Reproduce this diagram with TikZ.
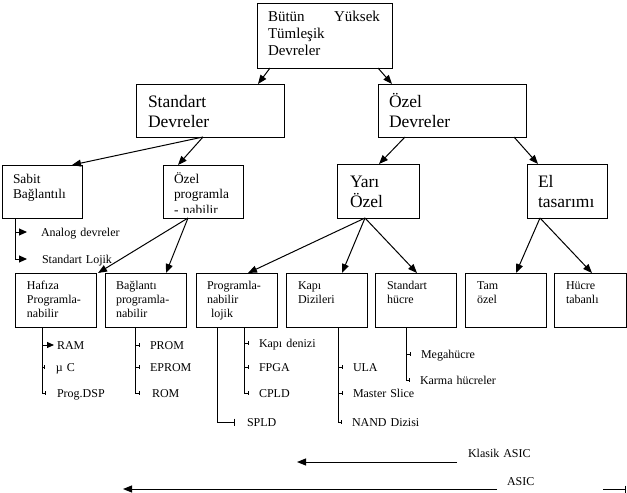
\documentclass[tikz,border=0pt]{standalone}
\usepackage{fontspec}
\setmainfont{Liberation Serif}
\usetikzlibrary{arrows.meta}
\newcommand\fTop{\fontsize{15}{17}\selectfont}
\newcommand\fBig{\fontsize{17.5}{20}\selectfont}
\newcommand\fMid{\fontsize{13.4}{15}\selectfont}
\newcommand\fMidB{\fontsize{13.4}{15.5}\selectfont}
\newcommand\fSm{\fontsize{12}{14}\selectfont}
\begin{document}
\begin{tikzpicture}[x=1pt,y=-1pt,
  bx/.style={draw, line width=1pt, inner sep=0pt, outer sep=0pt, anchor=north west},
  lbl/.style={anchor=base west, inner sep=0pt, outer sep=0pt, align=left, text width=150pt},
  ln/.style={line width=1pt},
  conn/.style={line width=1pt, -{Triangle[length=9pt,width=7pt]}},
  small/.style={line width=1pt, -{Triangle[length=8pt,width=7pt]}},
  smaller/.style={line width=1pt, -{Triangle[length=7pt,width=6pt]}},
  stub/.style={line width=0.8pt, -{Bar[width=4pt]}},
  bigstub/.style={line width=1pt, -{Bar[width=7pt]}}
]
\useasboundingbox (0,0) rectangle (627,493);

% ---- boxes ----
\node[bx, minimum width=135pt, minimum height=65pt] (top) at (257,3) {};
\node[bx, minimum width=148pt, minimum height=53pt] (sd) at (136,84) {};
\node[bx, minimum width=148pt, minimum height=53pt] (od) at (378,84) {};
\node[bx, minimum width=80pt, minimum height=53pt] (sabit) at (2,165) {};
\node[bx, minimum width=80pt, minimum height=53pt] (op) at (163,165) {};
\node[bx, minimum width=82pt, minimum height=54pt] (yari) at (337,164) {};
\node[bx, minimum width=80pt, minimum height=54pt] (el) at (527,164) {};
\node[bx, minimum width=81pt, minimum height=54pt] (haf) at (15,273) {};
\node[bx, minimum width=81pt, minimum height=54pt] (bag) at (105,273) {};
\node[bx, minimum width=81pt, minimum height=54pt] (pl) at (196,273) {};
\node[bx, minimum width=81pt, minimum height=54pt] (kd) at (286,273) {};
\node[bx, minimum width=81pt, minimum height=54pt] (sh) at (375,273) {};
\node[bx, minimum width=81pt, minimum height=54pt] (tam) at (465,273) {};
\node[bx, minimum width=72pt, minimum height=54pt] (hb) at (554,273) {};

% ---- box texts ----
\node[lbl, font=\fTop] (ttop) at (268,21) {\hbox to 112pt{Bütün\hfill Yüksek}\\Tümleşik\\Devreler};
\node[lbl, font=\fBig] (tsd) at (148,107) {Standart\\Devreler};
\node[lbl, font=\fBig] (tod) at (389,107) {Özel\\Devreler};
\node[lbl, font=\fMid] (tsabit) at (13,183) {Sabit\\Bağlantılı};
\begin{scope}
  \clip (163,165) rectangle (243,212.5);
  \node[lbl, font=\fMidB] (top2) at (174,183) {Özel\\programla\\- nabilir};
\end{scope}
\node[lbl, font=\fBig] (tyari) at (350,187) {Yarı\\Özel};
\node[lbl, font=\fBig] (tel) at (538,187) {El\\tasarımı};
\node[lbl, font=\fSm] (thaf) at (27,289) {Hafıza\\Programla-\\nabilir};
\node[lbl, font=\fSm] (tbag) at (116,289) {Bağlantı\\programla-\\nabilir};
\node[lbl, font=\fSm] (tpl) at (207,289) {Programla-\\nabilir\\\hspace*{4pt}lojik};
\node[lbl, font=\fSm] (tkd) at (298,289) {Kapı\\Dizileri};
\node[lbl, font=\fSm] (tsh) at (387,289) {Standart\\hücre};
\node[lbl, font=\fSm] (ttam) at (477,289) {Tam\\özel};
\node[lbl, font=\fSm] (thb) at (566,289) {Hücre\\tabanlı};

% ---- tree arrows ----
\draw[conn] ([xshift=13pt]top.south west) -- ([xshift=122pt]sd.north west);
\draw[conn] ([xshift=121pt]top.south west) -- ([xshift=14pt]od.north west);
\draw[conn] ([xshift=67pt]sd.south west) -- ([xshift=70pt]sabit.north west);
\draw[conn] ([xshift=67pt]sd.south west) -- ([xshift=15pt]op.north west);
\draw[conn] ([xshift=27pt]od.south west) -- ([xshift=42pt]yari.north west);
\draw[conn] ([xshift=136pt]od.south west) -- ([xshift=11pt]el.north west);
\draw[conn] ([xshift=25pt]op.south west) -- ([xshift=2pt]haf.north east);
\draw[conn] ([xshift=25pt]op.south west) -- ([xshift=61pt]bag.north west);
\draw[conn] ([xshift=28pt]yari.south west) -- ([xshift=52pt]pl.north west);
\draw[conn] ([xshift=28pt]yari.south west) -- ([xshift=56pt]kd.north west);
\draw[conn] ([xshift=28pt]yari.south west) -- ([xshift=42pt]sh.north west);
\draw[conn] ([xshift=13pt]el.south west) -- ([xshift=51pt]tam.north west);
\draw[conn] ([xshift=13pt]el.south west) -- ([xshift=38pt]hb.north west);

% ---- Sabit list ----
\coordinate (s0) at ([xshift=13pt]sabit.south west);
\coordinate (s1) at (15,232); \coordinate (s1e) at (27,232);
\coordinate (s2e) at (27,259);
\draw[small] (s0) |- (s2e);
\draw[small] (s1) -- (s1e);
\node[lbl, font=\fSm] (tanalog) at (41,236) {Analog devreler};
\node[lbl, font=\fSm] (tstlojik) at (42,263) {Standart Lojik};

% ---- Hafiza list ----
\coordinate (h0) at ([xshift=27pt]haf.south west);
\coordinate (h1) at (42,345); \coordinate (h1e) at (54,345);
\coordinate (h2) at (42,367); \coordinate (h2e) at (45,367);
\coordinate (h3e) at (46,393);
\draw[stub] (h0) |- (h3e);
\draw[smaller] (h1) -- (h1e);
\draw[stub] (h2) -- (h2e);
\node[lbl, font=\fSm] (tram) at (57,349) {RAM};
\node[lbl, font=\fSm] (tmuc) at (56,371) {µ C};
\node[lbl, font=\fSm] (tdsp) at (57,397) {Prog.DSP};

% ---- Baglanti list ----
\coordinate (b0) at ([xshift=30pt]bag.south west);
\coordinate (b1) at (135,345); \coordinate (b1e) at (140,345);
\coordinate (b2) at (135,367); \coordinate (b2e) at (140,367);
\coordinate (b3e) at (140,393);
\draw[stub] (b0) |- (b3e);
\draw[stub] (b1) -- (b1e);
\draw[stub] (b2) -- (b2e);
\node[lbl, font=\fSm] (tprom) at (150,349) {PROM};
\node[lbl, font=\fSm] (teprom) at (150,371) {EPROM};
\node[lbl, font=\fSm] (trom) at (152,397) {ROM};

% ---- Programlanabilir lojik list ----
\coordinate (p0) at ([xshift=21pt]pl.south west);
\coordinate (p4e) at (235,422);
\draw[bigstub] (p0) |- (p4e);
\coordinate (q0) at ([xshift=48pt]pl.south west);
\coordinate (q1) at (244,343); \coordinate (q1e) at (249,343);
\coordinate (q2) at (244,367); \coordinate (q2e) at (249,367);
\coordinate (q3e) at (249,393);
\draw[stub] (q0) |- (q3e);
\draw[stub] (q1) -- (q1e);
\draw[stub] (q2) -- (q2e);
\node[lbl, font=\fSm] (tkden) at (259,347) {Kapı denizi};
\node[lbl, font=\fSm] (tfpga) at (259,371) {FPGA};
\node[lbl, font=\fSm] (tcpld) at (259,397) {CPLD};
\node[lbl, font=\fSm] (tspld) at (247,426) {SPLD};

% ---- Kapi dizileri list ----
\coordinate (k0) at ([xshift=52pt]kd.south west);
\coordinate (k1) at (338,367); \coordinate (k1e) at (343,367);
\coordinate (k2) at (338,393); \coordinate (k2e) at (343,393);
\coordinate (k3e) at (342,422);
\draw[stub] (k0) |- (k3e);
\draw[stub] (k1) -- (k1e);
\draw[stub] (k2) -- (k2e);
\node[lbl, font=\fSm] (tula) at (353,371) {ULA};
\node[lbl, font=\fSm] (tms) at (353,397) {Master Slice};
\node[lbl, font=\fSm] (tnand) at (352,426) {NAND Dizisi};

% ---- Standart hucre list ----
\coordinate (m0) at ([xshift=31pt]sh.south west);
\coordinate (m1) at (406,354); \coordinate (m1e) at (411,354);
\coordinate (m2e) at (410,380);
\draw[stub] (m0) |- (m2e);
\draw[stub] (m1) -- (m1e);
\node[lbl, font=\fSm] (tmega) at (421,358) {Megahücre};
\node[lbl, font=\fSm] (tkarma) at (420,384) {Karma hücreler};

% ---- ASIC arrows ----
\coordinate (ka1) at (457,462); \coordinate (ka2) at (297,462);
\draw[conn] (ka1) -- (ka2);
\node[lbl, font=\fSm] (tklasik) at (468,457) {Klasik ASIC};
\coordinate (a1) at (497,489); \coordinate (a2) at (123,489);
\draw[conn] (a1) -- (a2);
\coordinate (a3) at (603,489); \coordinate (a4) at (626,489);
\draw[bigstub] (a3) -- (a4);
\node[lbl, font=\fSm] (tasic) at (507,485) {ASIC};
\end{tikzpicture}
\end{document}
